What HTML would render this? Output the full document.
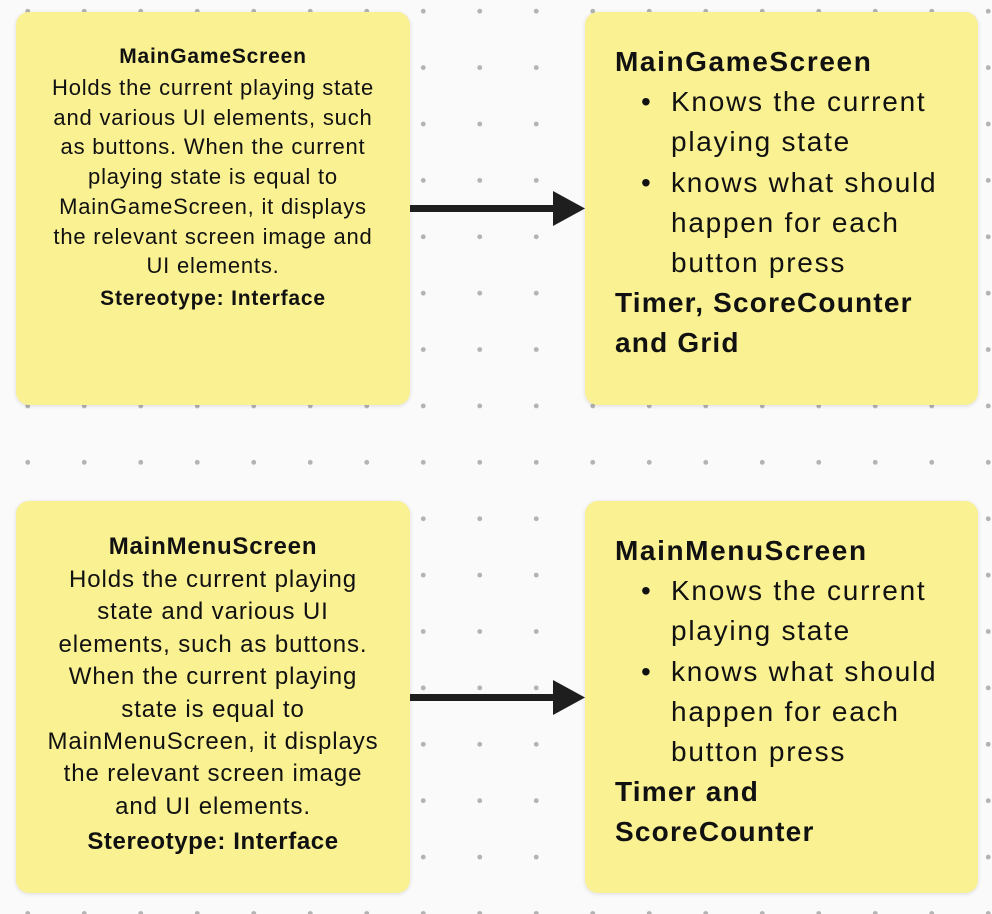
<!DOCTYPE html>
<html><head><meta charset="utf-8"><style>
html,body{margin:0;padding:0}
body{width:992px;height:914px;position:relative;overflow:hidden;background:#fafafa;
background-image:radial-gradient(circle,#b3b3b3 2.2px,transparent 2.6px);background-size:56.5px 56.4px;background-position:-0.5px -17px;
font-family:"Liberation Sans",sans-serif;color:#111}
.box{position:absolute;background:#f9f192;border-radius:13px;box-shadow:0 1px 4px rgba(0,0,0,0.12)}
.l{position:absolute;white-space:nowrap}
.c{left:0;width:394px;text-align:center}
.b{font-weight:bold}
.r{font-size:28px;line-height:40px;letter-spacing:1.75px}
</style></head><body>
<div class="box" style="left:16px;top:12px;width:394px;height:393px">
<div class="l c b" style="top:32px;font-size:21px;line-height:26px;letter-spacing:0.8px">MainGameScreen</div>
<div class="l c" style="top:61px;font-size:22px;line-height:29.7px;letter-spacing:0.8px">Holds the current playing state<br>and various UI elements, such<br>as buttons. When the current<br>playing state is equal to<br>MainGameScreen, it displays<br>the relevant screen image and<br>UI elements.</div>
<div class="l c b" style="top:274px;font-size:21px;line-height:26px;letter-spacing:0.8px">Stereotype: Interface</div>
</div>
<div class="box" style="left:585px;top:12px;width:393px;height:393px">
<div class="l b" style="left:30px;top:30px;font-size:28px;line-height:40px;letter-spacing:1.6px">MainGameScreen</div>
<div class="l" style="left:56px;top:70px;font-size:28px;line-height:40px">•</div>
<div class="l r" style="left:86px;top:70px">Knows the current<br>playing state</div>
<div class="l" style="left:56px;top:151px;font-size:28px;line-height:40px">•</div>
<div class="l r" style="left:86px;top:151px">knows what should<br>happen for each<br>button press</div>
<div class="l b" style="left:30px;top:271px;font-size:28px;line-height:40px;letter-spacing:1.2px">Timer, ScoreCounter<br>and Grid</div>
</div>
<div class="box" style="left:16px;top:501px;width:394px;height:392px">
<div class="l c b" style="top:32px;font-size:24px;line-height:28px;letter-spacing:0.8px">MainMenuScreen</div>
<div class="l c" style="top:63px;font-size:24px;line-height:32.4px;letter-spacing:0.9px">Holds the current playing<br>state and various UI<br>elements, such as buttons.<br>When the current playing<br>state is equal to<br>MainMenuScreen, it displays<br>the relevant screen image<br>and UI elements.</div>
<div class="l c b" style="top:327px;font-size:24px;line-height:28px;letter-spacing:0.6px">Stereotype: Interface</div>
</div>
<div class="box" style="left:585px;top:501px;width:393px;height:392px">
<div class="l b" style="left:30px;top:30px;font-size:28px;line-height:40px;letter-spacing:1.6px">MainMenuScreen</div>
<div class="l" style="left:56px;top:70px;font-size:28px;line-height:40px">•</div>
<div class="l r" style="left:86px;top:70px">Knows the current<br>playing state</div>
<div class="l" style="left:56px;top:151px;font-size:28px;line-height:40px">•</div>
<div class="l r" style="left:86px;top:151px">knows what should<br>happen for each<br>button press</div>
<div class="l b" style="left:30px;top:271px;font-size:28px;line-height:40px;letter-spacing:1.2px">Timer and<br>ScoreCounter</div>
</div>
<svg width="992" height="914" style="position:absolute;left:0;top:0">
<line x1="410" y1="208.5" x2="556" y2="208.5" stroke="#1e1e1e" stroke-width="7"/>
<polygon points="553,191 585,208.5 553,226" fill="#1e1e1e"/>
<line x1="410" y1="697.5" x2="556" y2="697.5" stroke="#1e1e1e" stroke-width="7"/>
<polygon points="553,680 585,697.5 553,715" fill="#1e1e1e"/>
</svg>
</body></html>
